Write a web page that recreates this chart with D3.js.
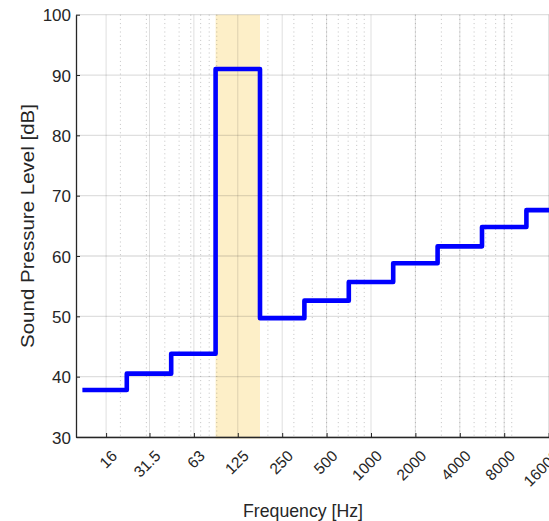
<!DOCTYPE html>
<html>
<head>
<meta charset="utf-8">
<script src="https://cdn.jsdelivr.net/npm/d3@7"></script>
<style>
  html, body { margin: 0; padding: 0; background: #fff; overflow: hidden; }
  svg { display: block; font-family: "Liberation Sans", Arial, Helvetica, sans-serif; }
</style>
</head>
<body>
<svg id="chart" width="549" height="521"></svg>
<script>
// Octave-band centre frequencies (nominal) and their tick labels
const bands = [16, 31.5, 63, 125, 250, 500, 1000, 2000, 4000, 8000, 16000];
const bandLabels = ["16", "31.5", "63", "125", "250", "500", "1000", "2000", "4000", "8000", "16000"];
// Sound pressure level per octave band [dB]
const levels = [37.8, 40.5, 43.8, 91.0, 49.7, 52.6, 55.7, 58.8, 61.6, 64.8, 67.6];
// Highlighted band (centre frequency)
const highlightBand = 125;
// Axis ranges and y ticks
const xDomain = [10, 20000];
const yDomain = [30, 100];
const yTicks = [30, 40, 50, 60, 70, 80, 90, 100];

const svg = d3.select("#chart");
const plotL = 76, plotR = 562.9, plotT = 14.7, plotB = 437;

const x = d3.scaleLog().domain(xDomain).range([plotL, plotR]);
const y = d3.scaleLinear().domain(yDomain).range([plotB, plotT]);

const axisColor = "#262626";

// exact base-2 octave edges around each band (1 kHz reference)
const edge = i => 1000 * Math.pow(2, i - 6.5);

// clip region for plot contents
svg.append("defs").append("clipPath").attr("id", "plotClip")
  .append("rect").attr("x", plotL).attr("y", plotT - 3).attr("width", plotR - plotL).attr("height", plotB - plotT + 6);

// highlighted octave band
const hi = bands.indexOf(highlightBand);
svg.append("rect")
  .attr("x", x(edge(hi)))
  .attr("y", y(yDomain[1]))
  .attr("width", x(edge(hi + 1)) - x(edge(hi)))
  .attr("height", y(29.75) - y(yDomain[1]))
  .attr("fill", "#f7c948")
  .attr("fill-opacity", 0.3);

// minor log grid (2..9 x 10^k), dotted
const minor = [];
for (let p = 1; p <= 4; p++) {
  for (let m = 2; m <= 9; m++) {
    const v = m * Math.pow(10, p);
    if (v > xDomain[0] && v < xDomain[1]) minor.push(v);
  }
}
svg.append("g").selectAll("line").data(minor).join("line")
  .attr("x1", d => x(d)).attr("x2", d => x(d))
  .attr("y1", plotT).attr("y2", plotB)
  .attr("stroke", axisColor).attr("stroke-opacity", 0.28)
  .attr("stroke-width", 1)
  .attr("stroke-dasharray", "1,3.2");

// major grid
const grid = svg.append("g");
grid.selectAll("line.v").data(bands).join("line").attr("class", "v")
  .attr("x1", d => x(d)).attr("x2", d => x(d))
  .attr("y1", plotT).attr("y2", plotB)
  .attr("stroke", axisColor).attr("stroke-opacity", 0.15).attr("stroke-width", 1);
grid.selectAll("line.h").data(yTicks).join("line").attr("class", "h")
  .attr("x1", plotL).attr("x2", plotR)
  .attr("y1", d => y(d)).attr("y2", d => y(d))
  .attr("stroke", axisColor).attr("stroke-opacity", 0.15).attr("stroke-width", 1.3);

// step line across octave bands
const pts = [];
levels.forEach((v, i) => {
  pts.push([edge(i), v]);
  pts.push([edge(i + 1), v]);
});
const line = d3.line().x(d => x(d[0])).y(d => y(d[1]));
svg.append("path")
  .attr("clip-path", "url(#plotClip)")
  .attr("d", line(pts))
  .attr("fill", "none")
  .attr("stroke", "#0000ff")
  .attr("stroke-width", 4.6)
  .attr("stroke-linejoin", "round");

// axes
const xAxis = d3.axisBottom(x).tickValues(bands).tickFormat((d, i) => bandLabels[i])
  .tickSizeInner(-4).tickSizeOuter(0);
const gx = svg.append("g").attr("transform", `translate(0,${plotB})`).call(xAxis);
gx.select(".domain").attr("stroke", axisColor).attr("stroke-width", 1.3);
gx.selectAll(".tick line").attr("stroke", axisColor);
gx.selectAll(".tick text")
  .attr("fill", axisColor)
  .attr("font-size", 15.5)
  .attr("text-anchor", "end")
  .attr("y", 0).attr("dy", 0)
  .attr("transform", "translate(11.5,20) rotate(-45)");

const yAxis = d3.axisLeft(y).tickValues(yTicks).tickSizeInner(-4).tickSizeOuter(0);
const gy = svg.append("g").attr("transform", `translate(${plotL},0)`).call(yAxis);
gy.select(".domain").attr("stroke", axisColor).attr("stroke-width", 1.3);
gy.selectAll(".tick line").attr("stroke", axisColor);
gy.selectAll(".tick text")
  .attr("fill", axisColor)
  .attr("font-size", 17)
  .attr("x", -5).attr("dy", "0.36em");

// axis titles
svg.append("text")
  .attr("x", 303).attr("y", 516.5)
  .attr("text-anchor", "middle")
  .attr("font-size", 17.7)
  .attr("fill", axisColor)
  .text("Frequency [Hz]");

svg.append("text")
  .attr("transform", `translate(34,226) rotate(-90)`)
  .attr("text-anchor", "middle")
  .attr("font-size", 18.5)
  .attr("textLength", 244)
  .attr("lengthAdjust", "spacingAndGlyphs")
  .attr("fill", axisColor)
  .text("Sound Pressure Level [dB]");
</script>
</body>
</html>
